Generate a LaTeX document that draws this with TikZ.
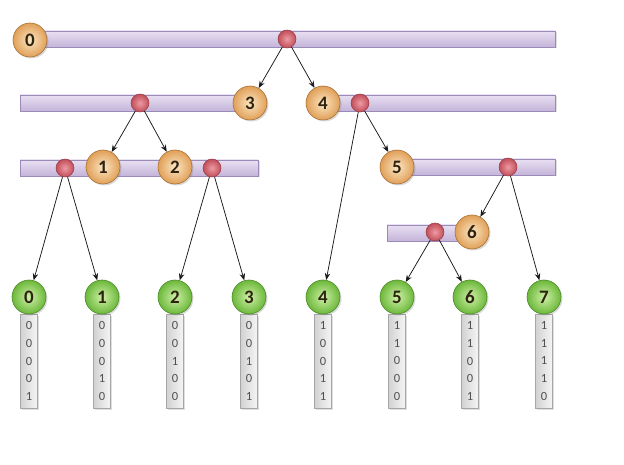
\documentclass[tikz,border=0pt]{standalone}
\usepackage{fontspec}
\setmainfont{Carlito}
\usetikzlibrary{arrows.meta,shadows}
\definecolor{barTop}{HTML}{E8E0F2}
\definecolor{barBot}{HTML}{C4B4DA}
\definecolor{barLine}{HTML}{9A8AB8}
\definecolor{orIn}{HTML}{FCE6C4}
\definecolor{orOut}{HTML}{E0A058}
\definecolor{orLine}{HTML}{A87034}
\definecolor{grIn}{HTML}{CFF0A8}
\definecolor{grOut}{HTML}{6CB83A}
\definecolor{grLine}{HTML}{4C8A2A}
\definecolor{rdIn}{HTML}{EE9AA2}
\definecolor{rdOut}{HTML}{C04E5A}
\definecolor{rdLine}{HTML}{9A3A44}
\definecolor{numText}{HTML}{2E2210}
\definecolor{bitText}{HTML}{505050}
\tikzset{
  bar/.style={rectangle, draw=barLine, line width=0.6pt, top color=barTop, bottom color=barBot, minimum height=16pt, inner sep=0pt,
    drop shadow={opacity=0.25, shadow xshift=1.5pt, shadow yshift=-1.5pt}},
  onode/.style={circle, draw=orLine, line width=0.6pt, inner color=orIn, outer color=orOut, minimum size=34pt, inner sep=0pt,
    font=\fontsize{19}{19}\selectfont\bfseries, text=numText,
    drop shadow={opacity=0.3, shadow xshift=1.5pt, shadow yshift=-1.5pt}},
  gnode/.style={circle, draw=grLine, line width=0.6pt, inner color=grIn, outer color=grOut, minimum size=34pt, inner sep=0pt,
    font=\fontsize{19}{19}\selectfont\bfseries, text=numText,
    drop shadow={opacity=0.3, shadow xshift=1.5pt, shadow yshift=-1.5pt}},
  dot/.style={circle, draw=rdLine, line width=0.5pt, inner color=rdIn, outer color=rdOut, minimum size=18pt, inner sep=0pt},
  bits/.style={rectangle, draw=gray!70, line width=0.5pt, left color=gray!35, right color=gray!8, minimum width=17pt, minimum height=94pt,
    inner sep=0pt, align=center, font=\fontsize{12.5}{17.6}\selectfont, text=bitText,
    drop shadow={opacity=0.25, shadow xshift=1.5pt, shadow yshift=-1.5pt}},
  arr/.style={-{Stealth[length=7pt,width=5.5pt]}, line width=0.75pt, black!90}
}
\begin{document}
\begin{tikzpicture}[x=1pt,y=-1pt]
\useasboundingbox (0,0) rectangle (624,465);
% bars
\node[bar, minimum width=535pt] (b0) at (287.5,39) {};
\node[bar, minimum width=230pt] (b1a) at (135,103) {};
\node[bar, minimum width=232pt] (b1b) at (439,103) {};
\node[bar, minimum width=238pt] (b2a) at (139,168) {};
\node[bar, minimum width=158pt] (b2b) at (476,167) {};
\node[bar, minimum width=85pt] (b3) at (429.5,233) {};
% bit columns
\foreach \i/\x/\b in {0/29/{0\\0\\0\\0\\1}, 1/102/{0\\0\\0\\1\\0}, 2/175/{0\\0\\1\\0\\0}, 3/249/{0\\0\\1\\0\\1},
                      4/323/{1\\0\\0\\1\\1}, 5/397/{1\\1\\0\\0\\0}, 6/470/{1\\1\\0\\0\\1}, 7/544/{1\\1\\1\\1\\0}}
  \node[bits] (c\i) at (\x,361) {\b};
% internal number nodes
\node[onode] (n0) at (30,40) {0};
\node[onode] (n3) at (250,103) {3};
\node[onode] (n4) at (323,103) {4};
\node[onode] (n1) at (103,167) {1};
\node[onode] (n2) at (175,167) {2};
\node[onode] (n5) at (397,167) {5};
\node[onode] (n6) at (472,232) {6};
% leaves
\foreach \i/\x in {0/29,1/102,2/175,3/249,4/323,5/397,6/470,7/544}
  \node[gnode] (l\i) at (\x,297) {\i};
% split dots
\node[dot] (d0) at (287,39) {};
\node[dot] (d3) at (140,103) {};
\node[dot] (d4) at (360,103) {};
\node[dot] (d1) at (65,168) {};
\node[dot] (d2) at (212,168) {};
\node[dot] (d5) at (508,167) {};
\node[dot] (d6) at (435,232) {};
% arrows
\draw[arr] (d0) -- (n3);
\draw[arr] (d0) -- (n4);
\draw[arr] (d3) -- (n1);
\draw[arr] (d3) -- (n2);
\draw[arr] (d4) -- (l4);
\draw[arr] (d4) -- (n5);
\draw[arr] (d1) -- (l0);
\draw[arr] (d1) -- (l1);
\draw[arr] (d2) -- (l2);
\draw[arr] (d2) -- (l3);
\draw[arr] (d5) -- (n6);
\draw[arr] (d5) -- (l7);
\draw[arr] (d6) -- (l5);
\draw[arr] (d6) -- (l6);
\end{tikzpicture}
\end{document}
